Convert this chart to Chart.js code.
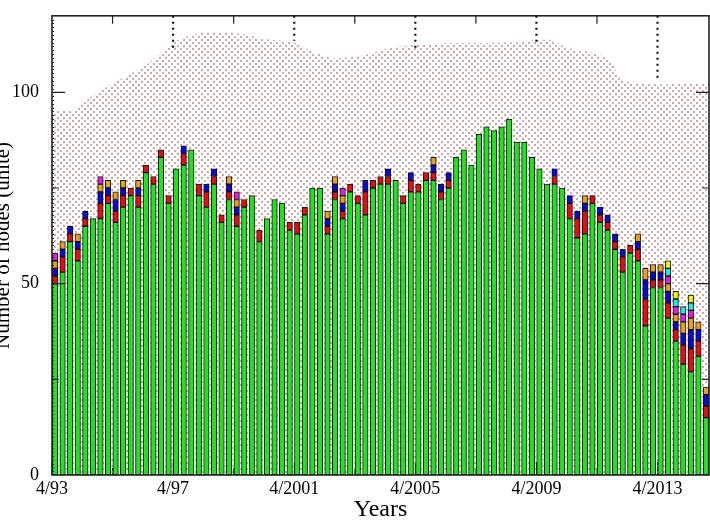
<!DOCTYPE html>
<html>
<head>
<meta charset="utf-8">
<script src="https://cdn.jsdelivr.net/npm/chart.js@4.4.1/dist/chart.umd.min.js"></script>
<style>
  html, body { margin: 0; padding: 0; background: #fff; }
  canvas { display: block; }
</style>
</head>
<body>
<canvas id="grafico" width="710" height="522"></canvas>
<script>
// --- 1. DATA (one bar per quarter, from 4/93) ---
const _ = null;

const GREEN = [
  50, 53, 61, 56, 65, 67, 67, 71, 66, 70,
  73, 70, 79, 76, 83, 71, 80, 81, 85, 73,
  70, 76, 66, 72, 65, 70, 73, 61, 67, 72,
  71, 64, 63, 68, 75, 75, 63, 72, 67, 74,
  71, 68, 75, 76, 76, 77, 71, 74, 74, 77,
  77, 72, 75, 83, 85, 81, 89, 91, 90, 91,
  93, 87, 87, 83, 80, 76, 76, 75, 67, 62,
  63, 71, 66, 64, 59, 53, 58, 56, 39, 49,
  49, 41, 35, 29, 27, 31, 15
];
const RED = [
  2, 4, 2, 3, 2, _, 4, 2, 3, 3,
  2, 3, 2, 2, 2, 2, _, 3, _, 3,
  4, 2, 2, 2, 3, 2, _, 3, _, _,
  _, 2, 3, 2, _, _, 2, 2, 2, 2,
  2, 6, 2, 2, 2, _, 2, 3, 2, 2,
  2, 2, 2, _, _, _, _, _, _, _,
  _, _, _, _, _, _, 2, _, 4, 5,
  6, 2, 2, 2, 2, 4, 2, 3, 7, 2,
  2, 4, 3, 5, 6, 4, 3
];
const BLUE = [
  2, 2, 2, 2, 2, _, 3, 2, 3, 2,
  _, 2, _, _, _, _, _, 2, _, _,
  2, 2, _, 2, 2, _, _, _, _, _,
  _, _, _, _, _, _, 2, 2, 2, _,
  _, 3, _, _, 2, _, _, 2, _, _,
  2, 2, 2, _, _, _, _, _, _, _,
  _, _, _, _, _, _, 2, _, 2, 2,
  2, _, 2, 2, 2, 2, _, 2, 5, 2,
  2, 3, 2, 3, 5, 3, 3
];
const ORANGE = [
  2, 2, _, 2, _, _, 2, 2, 2, 2,
  _, 2, _, _, _, _, _, _, _, _,
  _, _, _, 2, 2, _, _, _, _, _,
  _, _, _, _, _, _, 2, 2, 2, _,
  _, _, _, _, _, _, _, _, _, _,
  2, _, _, _, _, _, _, _, _, _,
  _, _, _, _, _, _, _, _, _, _,
  2, _, _, _, _, _, _, 2, 3, 2,
  2, 2, 2, 3, 3, 2, 2
];
const MAGENTA = [
  2, _, _, _, _, _, 2, _, _, _,
  _, _, _, _, _, _, _, _, _, _,
  _, _, _, _, 2, _, _, _, _, _,
  _, _, _, _, _, _, _, _, 2, _,
  _, _, _, _, _, _, _, _, _, _,
  _, _, _, _, _, _, _, _, _, _,
  _, _, _, _, _, _, _, _, _, _,
  _, _, _, _, _, _, _, _, _, _,
  _, 2, 2, 2, 2, _, _
];
const CYAN = [
  _, _, _, _, _, _, _, _, _, _,
  _, _, _, _, _, _, _, _, _, _,
  _, _, _, _, _, _, _, _, _, _,
  _, _, _, _, _, _, _, _, _, _,
  _, _, _, _, _, _, _, _, _, _,
  _, _, _, _, _, _, _, _, _, _,
  _, _, _, _, _, _, _, _, _, _,
  _, _, _, _, _, _, _, _, _, _,
  _, 2, 2, 2, 2, _, _
];
const YELLOW = [
  _, _, _, _, _, _, _, _, _, _,
  _, _, _, _, _, _, _, _, _, _,
  _, _, _, _, _, _, _, _, _, _,
  _, _, _, _, _, _, _, _, _, _,
  _, _, _, _, _, _, _, _, _, _,
  _, _, _, _, _, _, _, _, _, _,
  _, _, _, _, _, _, _, _, _, _,
  _, _, _, _, _, _, _, _, _, _,
  _, 2, 2, _, 2, _, _
];

// dotted background envelope (quarter index, value)
const ENV_X = [0, 3, 4, 6, 11, 13, 15, 17, 20, 25, 28, 32, 34, 37, 41, 45, 51, 60, 66, 68, 72, 74, 75, 77, 86.8];
const ENV_Y = [95, 95.5, 97, 100, 105.5, 108, 111.5, 114, 115.5, 115.3, 114, 113, 111, 109, 109.6, 111.7, 112.7, 113, 113.7, 111.7, 110, 107.5, 104, 102.3, 102.3];

// dotted markers at the top (quarter index, lower end)
const MARKER_X = [16, 32, 48, 64, 80];
const MARKER_END = [110.9, 113.5, 110.9, 113, 103.1];

// x ticks every 2 years, labels every 4 years
const X_TICKS = [0, 8, 16, 24, 32, 40, 48, 56, 64, 72, 80];
const X_LABELS = ['4/93', '4/97', '4/2001', '4/2005', '4/2009', '4/2013'];
const Y_MAX = 120;
const X_MAX = 86.8;

// --- 2. STYLE ---
const SERIES = [GREEN, RED, BLUE, ORANGE, MAGENTA, CYAN, YELLOW];
const COLORS = ['#22e022', '#e01010', '#0a0ad0', '#e8a020', '#e020e0', '#20e8e8', '#f0f020'];
const FONT = 'Liberation Serif, Times New Roman, serif';
const BAR_SHIFT = 0.4;

function dottedPattern(ctx) {
    const tile = document.createElement('canvas');
    tile.width = 6;
    tile.height = 6;
    const t = tile.getContext('2d');
    t.fillStyle = 'rgba(200, 150, 150, 0.85)';
    t.fillRect(0, 0, 2, 2);
    t.fillRect(3, 3, 2, 2);
    return ctx.createPattern(tile, 'repeat');
}

// inward ticks and frame, drawn by hand like the original plot
const framePlugin = {
    id: 'frame',
    beforeDatasetsDraw(chart) {
        const { ctx, chartArea: a, scales: { x } } = chart;
        ctx.save();
        ctx.strokeStyle = '#222';
        ctx.lineWidth = 1;
        x.ticks.forEach(t => {
            const px = x.getPixelForValue(t.value);
            const len = t.value % 16 === 0 ? 13 : 7;
            ctx.beginPath();
            ctx.moveTo(px, a.bottom);
            ctx.lineTo(px, a.bottom - len);
            ctx.stroke();
        });
        ctx.restore();
    },
    afterDatasetsDraw(chart) {
        const { ctx, chartArea: a, scales: { x, y } } = chart;
        ctx.save();
        ctx.strokeStyle = '#222';
        ctx.lineWidth = 1.2;
        // y ticks, left and right
        y.ticks.forEach(t => {
            if (t.value <= 0 || t.value >= Y_MAX) return;
            const py = y.getPixelForValue(t.value);
            const len = t.value % 50 === 0 ? 13 : 7;
            ctx.beginPath();
            ctx.moveTo(a.left, py); ctx.lineTo(a.left + len, py);
            ctx.moveTo(a.right, py); ctx.lineTo(a.right - len, py);
            ctx.stroke();
        });
        // small ticks on the left axis
        ctx.lineWidth = 1;
        for (let v = 1; v < Y_MAX; v++) {
            const py = Math.round(y.getPixelForValue(v)) + 0.5;
            ctx.beginPath();
            ctx.moveTo(a.left, py); ctx.lineTo(a.left + 2, py);
            ctx.stroke();
        }
        // top ticks every 2 years (4-year ones are the dotted markers)
        ctx.lineWidth = 1.2;
        x.ticks.forEach(t => {
            if (t.value % 16 === 0) return;
            const px = x.getPixelForValue(t.value);
            ctx.beginPath();
            ctx.moveTo(px, a.top); ctx.lineTo(px, a.top + 8);
            ctx.stroke();
        });
        ctx.lineWidth = 1.6;
        ctx.strokeRect(a.left, a.top, a.right - a.left, a.bottom - a.top);
        ctx.restore();
    }
};

document.addEventListener('DOMContentLoaded', () => {
    const canvas = document.getElementById('grafico');
    const ctx = canvas.getContext('2d');

    const barSets = SERIES.map((values, k) => ({
        type: 'bar',
        data: values.map((v, i) => ({ x: i + BAR_SHIFT, y: v })),
        backgroundColor: COLORS[k],
        borderColor: '#111',
        borderWidth: 1,
        borderSkipped: false,
        barThickness: 5.5,
        yAxisID: 'y',
        order: 1
    }));

    const envelopeSet = {
        type: 'line',
        data: ENV_X.map((x, i) => ({ x: x, y: ENV_Y[i] })),
        yAxisID: 'yl',
        fill: 'origin',
        backgroundColor: dottedPattern(ctx),
        borderColor: 'rgba(0,0,0,0)',
        borderWidth: 0,
        pointRadius: 0,
        tension: 0.3,
        order: 3
    };

    const markerSets = MARKER_X.map((x, k) => ({
        type: 'line',
        data: [{ x: x, y: Y_MAX }, { x: x, y: MARKER_END[k] }],
        yAxisID: 'yl',
        borderColor: '#111',
        borderWidth: 2.2,
        borderDash: [2, 4],
        pointRadius: 0,
        fill: false,
        order: 0
    }));

    new Chart(ctx, {
        data: { datasets: [envelopeSet, ...barSets, ...markerSets] },
        options: {
            responsive: false,
            animation: false,
            layout: { padding: { top: 15, right: 1, left: 0, bottom: 0 } },
            plugins: { legend: { display: false }, tooltip: { enabled: false } },
            scales: {
                x: {
                    type: 'linear',
                    min: 0,
                    max: X_MAX,
                    offset: false,
                    stacked: true,
                    grid: { display: false, offset: false },
                    border: { display: false },
                    afterBuildTicks: s => { s.ticks = X_TICKS.map(v => ({ value: v })); },
                    afterFit: s => { s.height = 47; },
                    ticks: {
                        autoSkip: false,
                        maxRotation: 0,
                        padding: -5,
                        color: '#000',
                        font: { family: FONT, size: 18 },
                        callback: v => (v % 16 === 0 ? X_LABELS[v / 16] : '')
                    },
                    title: {
                        display: true,
                        text: 'Years',
                        color: '#000',
                        font: { family: FONT, size: 24 },
                        padding: { top: 0, bottom: -2 }
                    }
                },
                y: {
                    min: 0,
                    max: Y_MAX,
                    stacked: true,
                    grid: { display: false },
                    border: { display: false },
                    afterFit: s => { s.width = 52; },
                    ticks: {
                        stepSize: 25,
                        padding: 5,
                        color: '#000',
                        font: { family: FONT, size: 18 },
                        callback: v => (v % 50 === 0 && v < Y_MAX ? v : '')
                    },
                    title: {
                        display: true,
                        text: 'Number of nodes (unite)',
                        color: '#000',
                        font: { family: FONT, size: 21 },
                        padding: { top: -9, bottom: 0 }
                    }
                },
                yl: { display: false, min: 0, max: Y_MAX }
            }
        },
        plugins: [framePlugin]
    });
});
</script>
</body>
</html>
